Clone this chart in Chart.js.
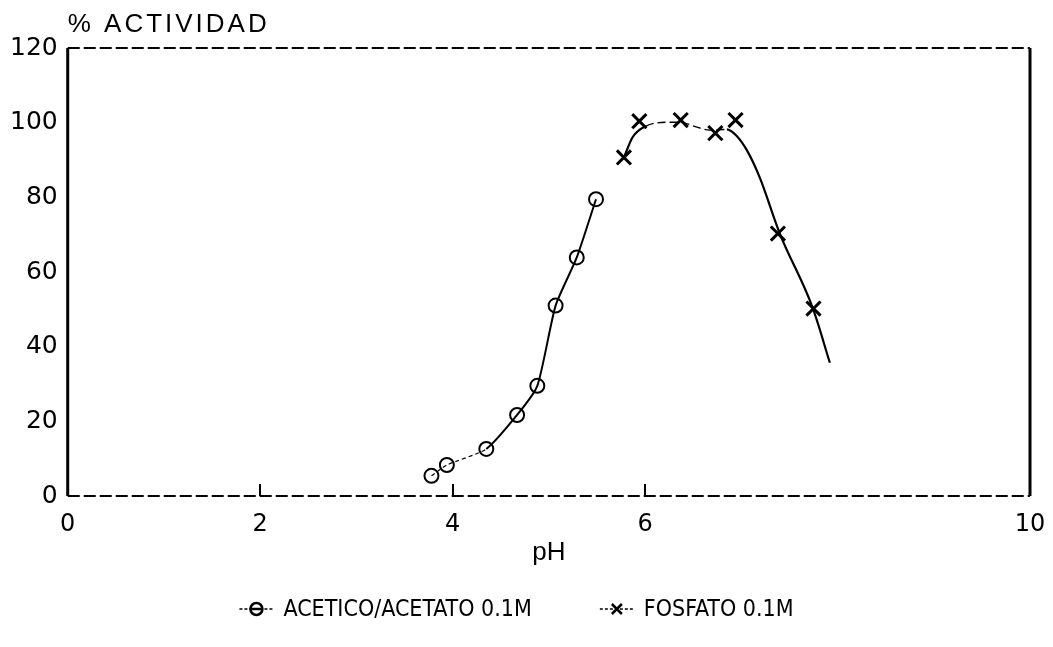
<!DOCTYPE html>
<html>
<head>
<meta charset="utf-8">
<title>Actividad frente a pH</title>
<script src="https://cdn.jsdelivr.net/npm/chart.js@4/dist/chart.umd.min.js"></script>
<style>
  html, body { margin: 0; padding: 0; background: #fff; }
  #wrap { width: 1053px; height: 647px; }
</style>
</head>
<body>
<div id="wrap"><canvas id="chart"></canvas></div>
<script>
'use strict'

// tampón acético/acetato 0.1M
const phAcetico = [3.78, 3.94, 4.35, 4.67, 4.88, 5.07, 5.29, 5.49]
const actAcetico = [5.4, 8.3, 12.6, 21.7, 29.5, 51.0, 63.9, 79.5]

// tampón fosfato 0.1M, puntos medidos
const phFosfato = [5.78, 5.94, 6.37, 6.73, 6.94, 7.38, 7.75]
const actFosfato = [90.7, 100.4, 100.7, 97.2, 100.7, 70.3, 50.2]

// curva ajustada a mano sobre los puntos de fosfato
const phAjuste = [5.79, 5.87, 6.01, 6.23, 6.36, 6.54, 6.67, 6.85, 6.95, 7.06, 7.19, 7.40, 7.74, 7.92]
const actAjuste = [91.3, 96.1, 99.1, 100.1, 100.1, 98.8, 98.0, 98.2, 96.5, 92.5, 85.4, 70.3, 50.5, 35.7]

const xTicks = [0, 2, 4, 6, 10]
const yTicks = [0, 20, 40, 60, 80, 100, 120]

const labelAcetico = 'ACETICO/ACETATO 0.1M'
const labelFosfato = 'FOSFATO 0.1M'

const SANS = "'Liberation Sans', Arial, sans-serif"
const WIDE = "'DejaVu Sans', sans-serif"
const NARROW = "'Liberation Sans Narrow', 'DejaVu Sans Condensed', 'Liberation Sans', sans-serif"

const pairs = (xs, ys) => xs.map((x, i) => ({ x, y: ys[i] }))

// "-o-" / "-x-" swatch centred on (cx, cy)
function drawMark(ctx, kind, cx, cy) {
  ctx.save()
  ctx.strokeStyle = '#000'
  ctx.lineWidth = 1.5
  ctx.setLineDash([3, 2])
  ctx.beginPath()
  ctx.moveTo(cx - 17, cy)
  ctx.lineTo(cx + 17, cy)
  ctx.stroke()
  ctx.setLineDash([])
  ctx.lineWidth = 2.5
  ctx.beginPath()
  if (kind === 'circle') {
    ctx.arc(cx, cy, 6, 0, Math.PI * 2)
    ctx.moveTo(cx - 6, cy); ctx.lineTo(cx + 6, cy)
  } else {
    ctx.moveTo(cx - 5, cy - 5); ctx.lineTo(cx + 5, cy + 5)
    ctx.moveTo(cx + 5, cy - 5); ctx.lineTo(cx - 5, cy + 5)
  }
  ctx.stroke()
  ctx.restore()
}

const frame = {
  id: 'frame',
  afterDraw(chart) {
    const { ctx, chartArea: a, scales: { x } } = chart
    ctx.save()
    ctx.strokeStyle = '#000'

    // thick sides
    ctx.lineWidth = 3
    ctx.beginPath()
    ctx.moveTo(a.left, a.top); ctx.lineTo(a.left, a.bottom)
    ctx.moveTo(a.right, a.top); ctx.lineTo(a.right, a.bottom)
    ctx.stroke()

    // thin broken top and bottom
    ctx.lineWidth = 2
    ctx.setLineDash([12, 4])
    ctx.beginPath()
    ctx.moveTo(a.left, a.top); ctx.lineTo(a.right, a.top)
    ctx.moveTo(a.left, a.bottom); ctx.lineTo(a.right, a.bottom)
    ctx.stroke()

    // tick marks pointing inward
    ctx.setLineDash([])
    ctx.lineWidth = 2
    ctx.beginPath()
    xTicks.filter(v => v > x.min && v < x.max).forEach(v => {
      const px = Math.round(x.getPixelForValue(v))
      ctx.moveTo(px, a.bottom)
      ctx.lineTo(px, a.bottom - 12)
    })
    ctx.stroke()

    ctx.fillStyle = '#000'
    ctx.textAlign = 'left'

    // y-axis heading above the plot
    ctx.font = '26px ' + SANS
    ctx.letterSpacing = '3px'
    ctx.textBaseline = 'alphabetic'
    ctx.fillText('% ACTIVIDAD', a.left, 32)
    ctx.letterSpacing = '0px'

    // legend row under the pH title
    ctx.font = '23px ' + NARROW
    ctx.textBaseline = 'middle'
    const items = [
      { kind: 'circle', text: labelAcetico },
      { kind: 'cross', text: labelFosfato }
    ]
    const markW = 34, markGap = 10, itemGap = 68
    const widths = items.map(it => ctx.measureText(it.text).width)
    const total = widths.reduce((s, w) => s + markW + markGap + w, 0) + itemGap * (items.length - 1)
    const ly = a.bottom + 113
    let lx = chart.width / 2 - total / 2 - 10
    items.forEach((it, i) => {
      drawMark(ctx, it.kind, lx + markW / 2, ly)
      ctx.fillText(it.text, lx + markW + markGap, ly + 1)
      lx += markW + markGap + widths[i] + itemGap
    })
    ctx.restore()
  }
}

const ctx = document.getElementById('chart').getContext('2d')

new Chart(ctx, {
  type: 'scatter',
  data: {
    datasets: [
      {
        label: labelAcetico,
        data: pairs(phAcetico, actAcetico),
        showLine: true,
        tension: 0.2,
        borderColor: '#000',
        borderWidth: 2,
        pointStyle: 'circle',
        pointRadius: 7,
        pointBorderWidth: 2,
        pointBackgroundColor: 'rgba(0,0,0,0)',
        pointBorderColor: '#000',
        segment: {
          borderDash: s => s.p1.parsed.x <= 4.4 ? [4, 3] : undefined,
          borderWidth: s => s.p1.parsed.x <= 4.4 ? 1.2 : 2
        }
      },
      {
        label: 'ajuste',
        data: pairs(phAjuste, actAjuste),
        showLine: true,
        cubicInterpolationMode: 'monotone',
        borderColor: '#000',
        borderWidth: 2.2,
        pointRadius: 0,
        segment: {
          borderDash: s => (s.p0.parsed.x >= 5.95 && s.p1.parsed.x <= 6.9) ? [8, 4] : undefined,
          borderWidth: s => (s.p0.parsed.x >= 5.95 && s.p1.parsed.x <= 6.9) ? 1.4 : 2.2
        }
      },
      {
        label: labelFosfato,
        data: pairs(phFosfato, actFosfato),
        showLine: false,
        pointStyle: 'crossRot',
        pointRadius: 10,
        pointBorderWidth: 3,
        pointBorderColor: '#000',
        pointBackgroundColor: '#000'
      }
    ]
  },
  options: {
    responsive: true,
    maintainAspectRatio: false,
    animation: false,
    events: [],
    layout: {
      padding: { left: 0, right: 23, top: 48, bottom: 79 }
    },
    scales: {
      x: {
        type: 'linear',
        min: 0,
        max: 10,
        afterBuildTicks: scale => {
          scale.ticks = xTicks.map(value => ({ value }))
        },
        // let the "10" hang past the frame instead of shrinking the plot
        afterFit: scale => {
          scale.paddingLeft = 0
          scale.paddingRight = 0
        },
        grid: { display: false, drawTicks: false },
        border: { display: false },
        ticks: {
          color: '#000',
          padding: 14,
          font: { family: WIDE, size: 24 },
          callback: v => String(v)
        },
        title: {
          display: true,
          text: 'pH',
          color: '#000',
          padding: { top: -16, bottom: 0 },
          font: { family: SANS, size: 26 }
        }
      },
      y: {
        min: 0,
        max: 120,
        afterBuildTicks: scale => {
          scale.ticks = yTicks.map(value => ({ value }))
        },
        grid: { display: false, drawTicks: false },
        border: { display: false },
        ticks: {
          color: '#000',
          padding: 10,
          font: { family: WIDE, size: 25 }
        }
      }
    },
    plugins: {
      tooltip: { enabled: false },
      legend: { display: false }
    }
  },
  plugins: [frame]
})
</script>
</body>
</html>
